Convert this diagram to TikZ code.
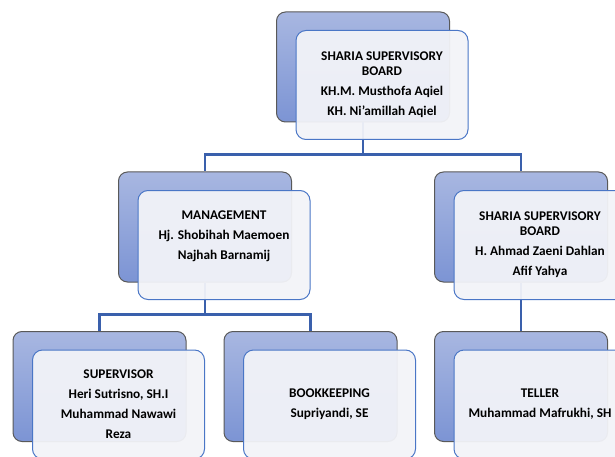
\documentclass[tikz,border=0pt]{standalone}
\usepackage{fontspec}
\setmainfont{Carlito}
\definecolor{backtop}{HTML}{A8B7E1}
\definecolor{backbot}{HTML}{7C94D4}
\definecolor{backline}{HTML}{595959}
\definecolor{frontfill}{HTML}{F2F3F8}
\definecolor{frontline}{HTML}{4A76C6}
\definecolor{connline}{HTML}{3A60AC}

\tikzstyle{backbox}=[draw=backline,line width=1pt,rounded corners=9pt,top color=backtop,bottom color=backbot,minimum width=173pt,minimum height=110pt,inner sep=0pt]
\tikzstyle{frontbox}=[draw=frontline,line width=1pt,rounded corners=10pt,fill=frontfill,fill opacity=0.95,text opacity=1,minimum width=172pt,minimum height=109pt,inner sep=0pt,align=center,font=\fontsize{13.3}{20}\selectfont\bfseries]
\tikzstyle{conn}=[draw=connline,line width=2.6pt]

\begin{document}
\begin{tikzpicture}[x=1pt, y=-1pt]
    \clip (0,0) rectangle (615,457);
    % First we draw the back boxes
    \foreach \pos/\name in {{(363,67)/board}, {(205,227)/mgmt}, {(521,227)/dps}, {(99.5,386.5)/spv}, {(310.5,386.5)/book}, {(521,386.5)/tell}}
        \node[backbox] (\name) at \pos {};
    % Connect the boxes with lines
    \foreach \source/\dest in {board/mgmt, board/dps, mgmt/spv, mgmt/book, dps/tell}
        \path[conn] (\source.south) -- ++(0,32) -| (\dest.north);
    % Then the front boxes with the names on top
    \foreach \name/\names in {board/{SHARIA SUPERVISORY\\[-5pt]BOARD\\KH.M. Musthofa Aqiel\\KH. Ni'amillah Aqiel},
                              mgmt/{MANAGEMENT\\Hj. Shobihah Maemoen\\Najhah Barnamij\\\mbox{}},
                              dps/{SHARIA SUPERVISORY\\[-5pt]BOARD\\H. Ahmad Zaeni Dahlan\\Afif Yahya},
                              spv/{SUPERVISOR\\Heri Sutrisno, SH.I\\Muhammad Nawawi\\Reza},
                              book/{BOOKKEEPING\\Supriyandi, SE},
                              tell/{TELLER\\Muhammad Mafrukhi, SH}}
        \node[frontbox] (\name-f) at ([shift={(19,18)}]\name.center) {\names};
\end{tikzpicture}
\end{document}
